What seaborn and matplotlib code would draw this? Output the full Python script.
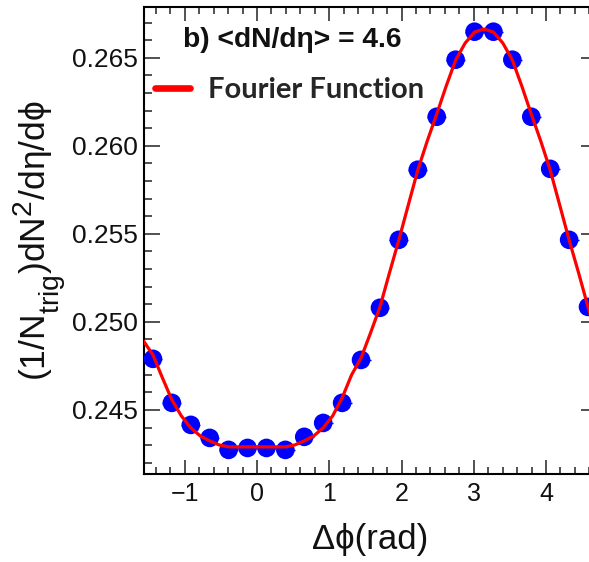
import numpy as np
import pandas as pd
import matplotlib
matplotlib.use("Agg")
import matplotlib.pyplot as plt
import seaborn as sns
from matplotlib.ticker import MultipleLocator, FormatStrFormatter

# ---------------- data ----------------
dphi_bins = [-1.440, -1.178, -0.916, -0.654, -0.393, -0.131, 0.131, 0.393,
             0.654, 0.916, 1.178, 1.440, 1.702, 1.963, 2.225, 2.487,
             2.749, 3.011, 3.272, 3.534, 3.796, 4.058, 4.320, 4.581]
pair_yield = [0.24790, 0.24540, 0.24415, 0.24341, 0.24273, 0.24284, 0.24284, 0.24273,
              0.24347, 0.24426, 0.24540, 0.24784, 0.25080, 0.25466, 0.25864, 0.26165,
              0.26489, 0.26648, 0.26648, 0.26489, 0.26165, 0.25869, 0.25466, 0.25085]
bin_half_width = 0.131

fourier_x = [-1.571, -1.440, -1.309, -1.178, -1.047, -0.916, -0.785, -0.654, -0.524,
             -0.393, -0.262, -0.131, 0.000, 0.131, 0.262, 0.393, 0.524, 0.654,
             0.785, 0.916, 1.047, 1.178, 1.309, 1.440, 1.571, 1.702, 1.833,
             1.963, 2.094, 2.225, 2.356, 2.487, 2.618, 2.749, 2.880, 3.011,
             3.142, 3.272, 3.403, 3.534, 3.665, 3.796, 3.927, 4.058, 4.189,
             4.320, 4.451, 4.581, 4.712]
fourier_y = [0.24892, 0.24812, 0.24682, 0.24557, 0.24466, 0.24398, 0.24352, 0.24324, 0.24301,
             0.24290, 0.24290, 0.24290, 0.24290, 0.24290, 0.24290, 0.24290, 0.24301, 0.24324,
             0.24352, 0.24398, 0.24466, 0.24568, 0.24699, 0.24795, 0.24937, 0.25085, 0.25278,
             0.25465, 0.25664, 0.25862, 0.26027, 0.26180, 0.26339, 0.26487, 0.26583, 0.26646,
             0.26663, 0.26646, 0.26583, 0.26487, 0.26339, 0.26180, 0.26027, 0.25862, 0.25664,
             0.25465, 0.25278, 0.25085, 0.24897]

x_limits = (-1.5708, 4.7124)
y_limits = (0.24136, 0.26790)
annotation = "b) <dN/dη> = 4.6"
legend_label = "Fourier Function"
x_title = "Δϕ(rad)"
y_title = r"$\mathregular{(1/N_{trig})dN^{2}/d\eta/d\phi}$"

# ---------------- style ----------------
sns.set_theme(style="ticks")
plt.rcParams["font.family"] = ["Liberation Sans", "DejaVu Sans"]
plt.rcParams["mathtext.fontset"] = "custom"
plt.rcParams["mathtext.rm"] = "Liberation Sans"
plt.rcParams["mathtext.it"] = "Liberation Sans"
plt.rcParams["mathtext.bf"] = "Liberation Sans:bold"
plt.rcParams["mathtext.fallback"] = "stixsans"
try:
    import matplotlib._mathtext as _mt
    _mt.SHRINK_FACTOR = 0.8
    _mt.FontConstantsBase.sub1 = 0.75
except Exception:
    pass

fig = plt.figure(figsize=(5.89, 5.62), dpi=100)
ax = fig.add_axes([143.5 / 589, 88 / 562, 454 / 589, 467.3 / 562])

points = pd.DataFrame({"dphi": dphi_bins, "yield": pair_yield})
curve = pd.DataFrame({"dphi": fourier_x, "yield": fourier_y})

ax.errorbar(points["dphi"], points["yield"], xerr=bin_half_width, fmt="none",
            ecolor="#0000ff", elinewidth=1.0, zorder=2)
sns.scatterplot(data=points, x="dphi", y="yield", ax=ax, s=180, color="#0000ff",
                edgecolor="none", linewidth=0, zorder=3, legend=False)
sns.lineplot(data=curve, x="dphi", y="yield", ax=ax, color="#ff0000", linewidth=2.3,
             sort=False, estimator=None, zorder=4, label=legend_label)

ax.set_xlim(*x_limits)
ax.set_ylim(*y_limits)

ax.xaxis.set_major_locator(MultipleLocator(1))
ax.xaxis.set_minor_locator(MultipleLocator(0.2))
ax.yaxis.set_major_locator(MultipleLocator(0.005))
ax.yaxis.set_minor_locator(MultipleLocator(0.001))
ax.yaxis.set_major_formatter(FormatStrFormatter("%.3f"))

ax.tick_params(which="both", direction="in", top=True, right=True,
               colors="#222222", labelcolor="#111111", width=1.1)
ax.tick_params(axis="x", which="major", length=10, labelsize=18, pad=6)
ax.tick_params(axis="x", which="minor", length=5)
ax.tick_params(axis="y", which="major", length=11.5, labelsize=19, pad=4)
ax.tick_params(axis="y", which="minor", length=6)
for sp in ax.spines.values():
    sp.set_linewidth(1.5)
    sp.set_color("black")

ax.set_xlabel(x_title, fontsize=25, color="#111111")
ax.xaxis.set_label_coords(0.5, -0.105)
ax.set_ylabel(y_title, fontsize=25.5, color="#111111")
ax.yaxis.set_label_coords(-0.163, 0.5)

ax.text((183 - 143.5) / 454, (474 - 47) / 467.3, annotation, transform=ax.transAxes,
        fontsize=20.3, fontweight="bold", ha="left", va="baseline", color="#111111")

leg = ax.legend(loc="center left", bbox_to_anchor=((155 - 143.5) / 454, (474 - 90) / 467.3),
                frameon=False, borderpad=0, borderaxespad=0, handlelength=1.2,
                handletextpad=0.6, prop={"family": "Lato", "weight": "bold", "size": 21})
for ln in leg.get_lines():
    ln.set_linewidth(4.8)

fig.savefig("out.png", dpi=100)
